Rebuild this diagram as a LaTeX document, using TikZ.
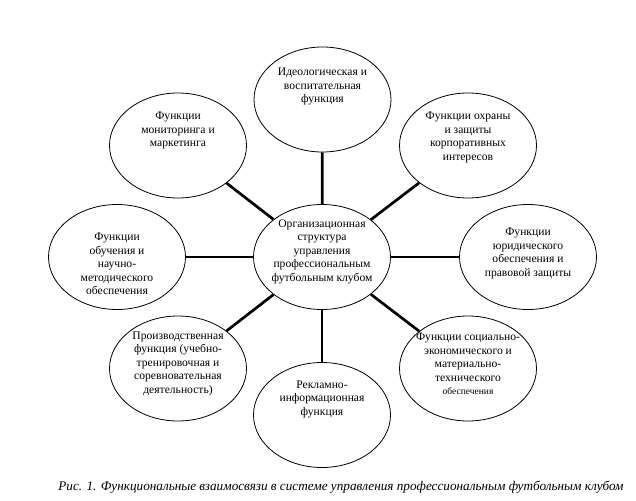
\documentclass[tikz,border=0pt]{standalone}
\usepackage{fontspec}
\setmainfont{Liberation Serif}
\usetikzlibrary{shapes.geometric}
\tikzset{
  oval/.style={draw, ellipse, line width=0.8pt, inner sep=0pt, minimum width=137pt, minimum height=105pt},
  txt/.style={align=center, font=\fontsize{11.6}{13.5}\selectfont, inner sep=0pt},
  link/.style={line width=2.7pt},
}
\begin{document}
\begin{tikzpicture}[x=1pt,y=-1pt]
\useasboundingbox (0,0) rectangle (636,500);
% ellipses
\node[oval] (c) at (322,257) {};
\node[oval] (top) at (322.5,99.5) {};
\node[oval] (mon) at (178,145.5) {};
\node[oval] (okh) at (468,145.5) {};
\node[oval] (obu) at (117,257) {};
\node[oval] (jur) at (528,257) {};
\node[oval] (pro) at (178,368.5) {};
\node[oval] (soc) at (468,368.5) {};
\node[oval] (rek) at (322,415) {};
% connectors
\foreach \n in {top,mon,okh,obu,jur,pro,soc,rek}
  \draw[link] (c) -- (\n);
% texts
\node[txt] (tc) at (322,251.5) {Организационная\\структура\\управления\\профессиональным\\футбольным клубом};
\node[txt] (ttop) at (322.5,86.5) {Идеологическая и\\воспитательная\\функция};
\node[txt] (tmon) at (178,130.5) {Функции\\мониторинга и\\маркетинга};
\node[txt] (tokh) at (468,137.5) {Функции охраны\\и защиты\\корпоративных\\интересов};
\node[txt] (tobu) at (117,264) {Функции\\обучения и\\научно-\\методического\\обеспечения};
\node[txt] (tjur) at (528,253.5) {Функции\\юридического\\обеспечения и\\правовой защиты};
\node[txt] (tpro) at (178,363.5) {Производственная\\функция (учебно-\\тренировочная и\\соревновательная\\деятельность)};
\node[txt] (tsoc) at (468,364) {Функции социально-\\экономического и\\материально-\\технического\\{\fontsize{9.5}{11}\selectfont обеспечения}};
\node[txt] (trek) at (322,399) {Рекламно-\\информационная\\функция};
% caption
\node[font=\fontsize{13.2}{14}\selectfont\itshape, inner sep=0pt] (cap) at (341,487) {Рис. 1. Функциональные взаимосвязи в системе управления профессиональным футбольным клубом};
\end{tikzpicture}
\end{document}
